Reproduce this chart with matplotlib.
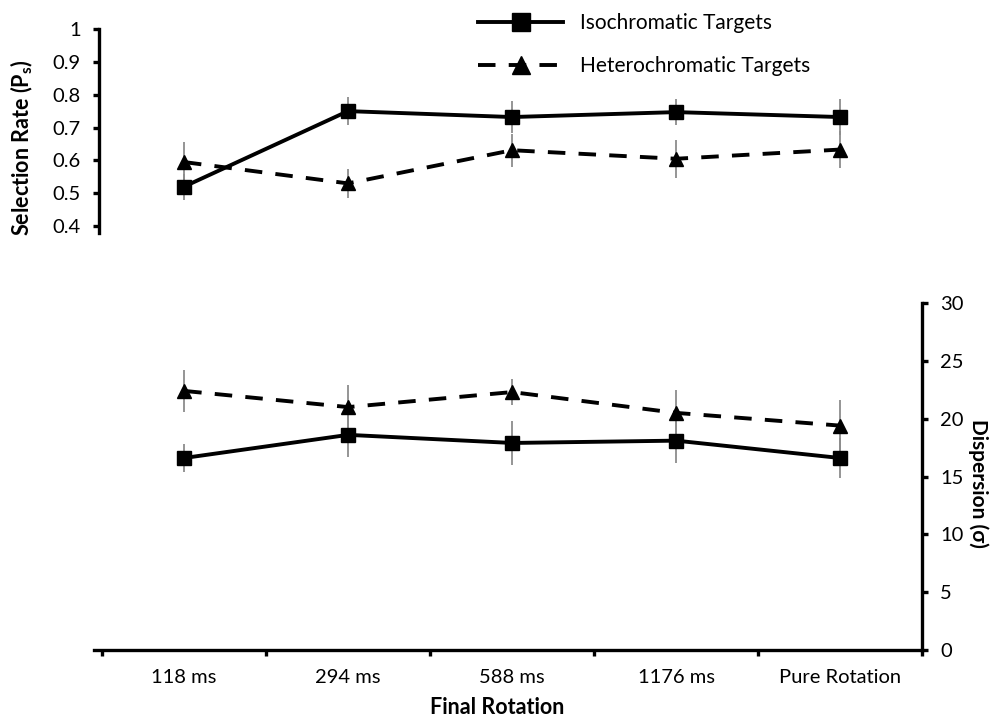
import matplotlib
matplotlib.use('Agg')
import matplotlib.pyplot as plt

plt.rcParams['font.family'] = ['Lato', 'DejaVu Sans']
plt.rcParams['mathtext.fontset'] = 'custom'
plt.rcParams['mathtext.bf'] = 'Lato:bold'
plt.rcParams['mathtext.rm'] = 'Lato'

# data
conditions = ['118 ms', '294 ms', '588 ms', '1176 ms', 'Pure Rotation']
iso_rate = [0.52, 0.75, 0.732, 0.747, 0.732]
iso_rate_err = [0.04, 0.043, 0.05, 0.04, 0.055]
het_rate = [0.595, 0.53, 0.631, 0.605, 0.633]
het_rate_err = [0.062, 0.044, 0.05, 0.058, 0.055]

iso_disp = [16.6, 18.6, 17.9, 18.1, 16.6]
iso_disp_err = [1.2, 1.9, 1.9, 1.9, 1.7]
het_disp = [22.4, 21.0, 22.3, 20.5, 19.4]
het_disp_err = [1.8, 1.9, 1.1, 2.0, 2.2]

W, H = 993, 720
fig = plt.figure(figsize=(W / 100, H / 100), dpi=100)


def px_axes(left, top, right, bottom):
    return fig.add_axes([left / W, 1 - bottom / H, (right - left) / W, (bottom - top) / H])


x = list(range(len(conditions)))
line_w = 2.8
dash = (4.5, 3.4)
err_kw = dict(ecolor='#8c8c8c', elinewidth=1.3, capsize=0, zorder=1)

# top panel: selection rate
ax1 = px_axes(99, 29, 922, 233)
ax1.errorbar(x, iso_rate, yerr=iso_rate_err, fmt='none', **err_kw)
ax1.errorbar(x, het_rate, yerr=het_rate_err, fmt='none', **err_kw)
l_iso, = ax1.plot(x, iso_rate, '-', color='black', lw=line_w, marker='s', ms=10, zorder=3)
l_het, = ax1.plot(x, het_rate, '--', color='black', lw=line_w, marker='^', ms=10,
                  dashes=dash, zorder=3)
ax1.set_xlim(-0.518, 4.5)
ax1.set_ylim(0.379, 1.0)
ax1.set_yticks([0.4, 0.5, 0.6, 0.7, 0.8, 0.9, 1.0], ['0.4', '0.5', '0.6', '0.7', '0.8', '0.9', '1'])
for s in ['top', 'right', 'bottom']:
    ax1.spines[s].set_visible(False)
ax1.spines['left'].set_linewidth(2.4)
ax1.set_xticks([])
ax1.tick_params(axis='y', direction='out', length=4, width=2.4, labelsize=14.5, pad=9)
ax1.patch.set_alpha(0)

# bottom panel: dispersion
ax2 = px_axes(94, 303, 922, 650)
ax2.errorbar(x, iso_disp, yerr=iso_disp_err, fmt='none', **err_kw)
ax2.errorbar(x, het_disp, yerr=het_disp_err, fmt='none', **err_kw)
ax2.plot(x, iso_disp, '-', color='black', lw=line_w, marker='s', ms=10, zorder=3)
ax2.plot(x, het_disp, '--', color='black', lw=line_w, marker='^', ms=10,
         dashes=dash, zorder=3)
ax2.set_xlim(-0.55, 4.5)
ax2.set_ylim(0, 30)
ax2.yaxis.tick_right()
ax2.set_yticks([0, 5, 10, 15, 20, 25, 30])
for s in ['top', 'left']:
    ax2.spines[s].set_visible(False)
ax2.spines['right'].set_linewidth(2.4)
ax2.spines['bottom'].set_linewidth(2.4)
ax2.set_xticks([i - 0.5 for i in range(len(conditions) + 1)], [''] * (len(conditions) + 1))
ax2.set_xticks(x, conditions, minor=True)
ax2.tick_params(axis='x', which='major', direction='out', length=4, width=2.4)
ax2.tick_params(axis='x', which='minor', length=0, labelsize=14.5, pad=14)
ax2.tick_params(axis='y', direction='out', length=4, width=2.4, labelsize=14.5, pad=9)
ax2.patch.set_alpha(0)

# axis titles
fig.text(22 / W, 1 - 148 / H, r'Selection Rate (P$_{\mathbf{s}}$)', rotation=90,
         ha='center', va='center', fontsize=15.5, fontweight='bold')
fig.text(978 / W, 1 - 483 / H, 'Dispersion (σ)', rotation=270,
         ha='center', va='center', fontsize=15, fontweight='bold')
fig.text(497 / W, 1 - 707 / H, 'Final Rotation',
         ha='center', va='center', fontsize=15.5, fontweight='bold')

fig.legend([l_iso, l_het], ['Isochromatic Targets', 'Heterochromatic Targets'],
           loc='upper left', bbox_to_anchor=(478 / W, 1 - 13 / H), frameon=False,
           fontsize=15, handlelength=4.1, handletextpad=0.8, labelspacing=1.1,
           borderpad=0, borderaxespad=0, markerscale=1.25)

fig.savefig('out.png', dpi=100)
